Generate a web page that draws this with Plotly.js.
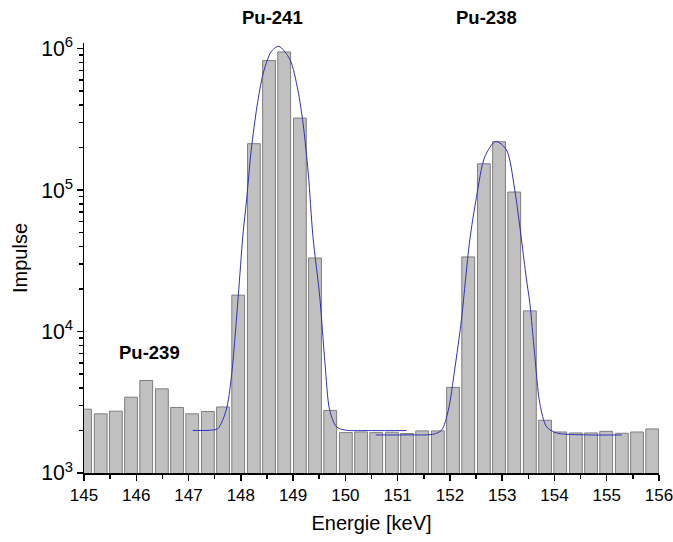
<!DOCTYPE html>
<html>
<head>
<meta charset="utf-8">
<script src="https://cdn.plot.ly/plotly-3.0.1.min.js"></script>
<style>html,body{margin:0;padding:0;background:#fff;}#chart{width:673px;height:542px;}</style>
</head>
<body>
<div id="chart"></div>
<script>
// Bin centres (keV) and counts
var energy = [145.02, 145.32, 145.61, 145.90, 146.19, 146.49, 146.78, 147.07, 147.37, 147.66,
              147.95, 148.25, 148.54, 148.83, 149.13, 149.42, 149.71, 150.01, 150.30, 150.59,
              150.89, 151.18, 151.47, 151.77, 152.06, 152.35, 152.65, 152.94, 153.23, 153.53,
              153.82, 154.11, 154.41, 154.70, 154.99, 155.29, 155.58, 155.87];
var counts = [2825, 2620, 2735, 3435, 4510, 3935, 2905, 2620, 2720, 2930,
              18100, 212800, 824000, 948000, 323000, 33100, 2770, 1930, 1950, 1930,
              1940, 1900, 1985, 1985, 4030, 33700, 153500, 219700, 96900, 14000,
              2360, 1950, 1920, 1920, 1970, 1910, 1950, 2050];

// Fit curve 1 (Pu-241) points
var fit1X = [147.08, 147.40, 147.56, 147.72, 147.82, 147.95, 148.04, 148.11, 148.20, 148.31, 148.43, 148.58, 148.725,
             148.94, 149.09, 149.19, 149.29, 149.38, 149.51, 149.61, 149.70, 149.83, 150.00, 150.50, 151.17];
var fit1Y = [2000, 2005, 2060, 2780, 4790, 17600, 48000, 85300, 193000, 391000, 674000, 950000, 1040000,
             838000, 513000, 298000, 132000, 46900, 17600, 5960, 2780, 2120, 2010, 1995, 1995];

// Fit curve 2 (Pu-238) points
var fit2X = [150.58, 151.20, 151.68, 151.84, 151.97, 152.09, 152.22, 152.30, 152.38, 152.51, 152.67, 152.876,
             153.08, 153.24, 153.37, 153.46, 153.53, 153.62, 153.72, 153.85, 154.04, 154.60, 155.29];
var fit2Y = [1858, 1860, 1880, 2005, 2780, 5330, 12050, 23500, 44400, 90100, 173000, 221000,
             193000, 100500, 44400, 24000, 15800, 7010, 3100, 2120, 1920, 1860, 1858];

var xTicks = [145, 146, 147, 148, 149, 150, 151, 152, 153, 154, 155, 156];
var yMinorTicks = [2000, 3000, 4000, 5000, 6000, 7000, 8000, 9000,
                   20000, 30000, 40000, 50000, 60000, 70000, 80000, 90000,
                   200000, 300000, 400000, 500000, 600000, 700000, 800000, 900000];
var labels = [
  {text: 'Pu-241', x: 148.61, y: 1.059},
  {text: 'Pu-238', x: 152.70, y: 1.059},
  {text: 'Pu-239', x: 146.26, y: 3.855}
];

var font = 'Liberation Sans, Arial, sans-serif';

var traces = [
  {
    type: 'bar', x: energy, y: counts, width: 0.245,
    marker: {color: '#c0c0c0', line: {color: '#7f7f7f', width: 1}},
    hoverinfo: 'x+y', showlegend: false
  },
  {
    type: 'scatter', mode: 'lines', x: fit1X, y: fit1Y,
    line: {color: '#2f2fbf', width: 1, shape: 'spline', smoothing: 0.8}, showlegend: false
  },
  {
    type: 'scatter', mode: 'lines', x: fit2X, y: fit2Y, yaxis: 'y2',
    line: {color: '#2f2fbf', width: 1, shape: 'spline', smoothing: 0.8}, showlegend: false
  }
];

var annotations = labels.map(function (l, i) {
  return {
    text: '<b>' + l.text + '</b>', x: l.x, y: l.y, xref: 'x', yref: i < 2 ? 'paper' : 'y',
    showarrow: false, font: {family: font, size: 18.5, color: '#000'}, xanchor: 'center', yanchor: 'middle'
  };
});

var layout = {
  width: 673, height: 542,
  margin: {l: 84, r: 14, t: 43, b: 69, pad: 0},
  paper_bgcolor: '#fff', plot_bgcolor: '#fff',
  bargap: 0.17,
  font: {family: font, size: 17, color: '#000'},
  xaxis: {
    range: [145, 156], tickvals: xTicks, ticktext: xTicks.map(String),
    ticklabeloverflow: 'allow',
    showgrid: false, zeroline: false, showline: true, linecolor: '#000', linewidth: 1.5,
    ticks: 'outside', ticklen: 6, tickwidth: 1.5, tickcolor: '#000',
    minor: {ticks: 'outside', ticklen: 4, tickwidth: 1.5, tickcolor: '#000', dtick: 0.5, showgrid: false},
    tickfont: {family: font, size: 17},
    title: {text: 'Energie [keV]', font: {family: font, size: 20}, standoff: 12}
  },
  yaxis: {
    type: 'log', range: [3, 6.04], dtick: 1, exponentformat: 'power',
    showgrid: false, zeroline: false, showline: true, linecolor: '#000', linewidth: 1.5,
    ticks: 'outside', ticklen: 6, tickwidth: 1.5, tickcolor: '#000',
    tickfont: {family: font, size: 17},
    title: {text: 'Impulse', font: {family: font, size: 20}, standoff: 8}
  },
  yaxis2: {
    type: 'log', range: [3, 6.04], overlaying: 'y', side: 'left', anchor: 'x',
    tickmode: 'array', tickvals: yMinorTicks, showticklabels: false,
    showgrid: false, zeroline: false, showline: false,
    ticks: 'outside', ticklen: 4, tickwidth: 1.5, tickcolor: '#000'
  },
  annotations: annotations
};

Plotly.newPlot('chart', traces, layout, {displayModeBar: false, staticPlot: true});
</script>
</body>
</html>
